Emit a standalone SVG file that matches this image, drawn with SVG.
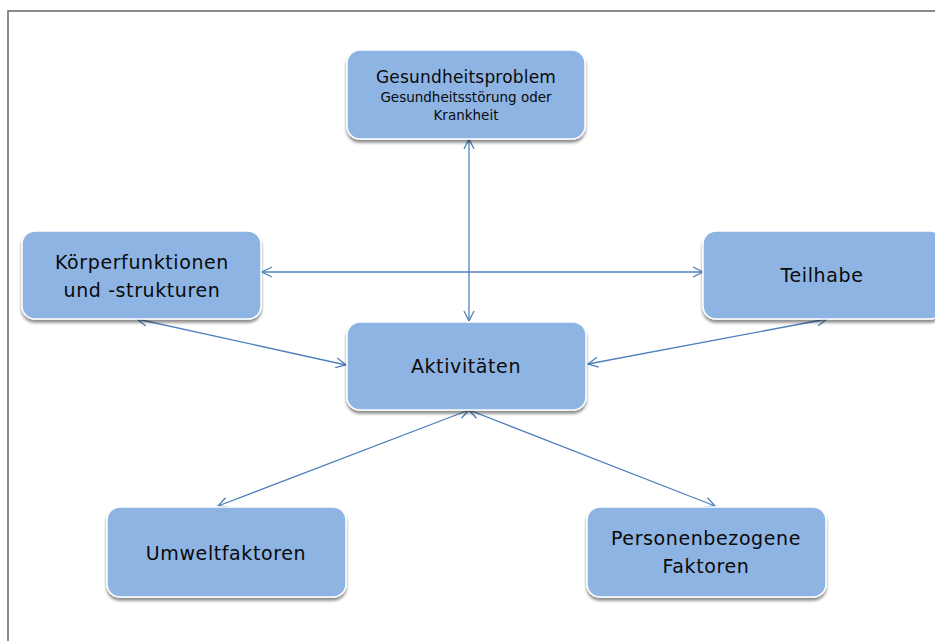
<svg xmlns="http://www.w3.org/2000/svg" width="935" height="641" viewBox="0 0 935 641">
<style>
.box{fill:#8eb4e3;stroke:#ffffff;stroke-width:1.5}
.t{font-family:"DejaVu Sans","Liberation Sans",sans-serif;fill:#0a0a0a;text-anchor:middle}
.big{font-size:19px;letter-spacing:0.6px}
.mid{font-size:17px;letter-spacing:0.2px}
.small{font-size:13.5px}
.c{stroke:#4f81bd;stroke-width:1.3;fill:none;marker-start:url(#ah);marker-end:url(#ah)}
</style>
<defs>
<marker id="ah" viewBox="0 0 12 12" refX="11" refY="6" markerWidth="12" markerHeight="12" markerUnits="userSpaceOnUse" orient="auto-start-reverse">
<path d="M1,1 L11,6 L1,11" fill="none" stroke="#4f81bd" stroke-width="1.3"/>
</marker>
<filter id="sh" x="-10%" y="-10%" width="120%" height="130%">
<feGaussianBlur in="SourceAlpha" stdDeviation="1.5"/>
<feOffset dx="0" dy="2.5" result="b"/>
<feComponentTransfer><feFuncA type="linear" slope="0.45"/></feComponentTransfer>
<feMerge><feMergeNode/><feMergeNode in="SourceGraphic"/></feMerge>
</filter>
</defs>
<rect width="935" height="641" fill="#ffffff"/>
<path d="M8,641 L8,11 L935,11" fill="none" stroke="#666" stroke-width="1.5"/>
<g id="connectors">
<line class="c" x1="469" y1="139" x2="469" y2="321"/>
<line class="c" x1="262" y1="272" x2="703" y2="272"/>
<line class="c" x1="137" y1="319" x2="346" y2="365"/>
<line class="c" x1="827" y1="319" x2="588" y2="364"/>
<line class="c" x1="469" y1="410" x2="218" y2="506"/>
<line class="c" x1="469" y1="410" x2="715" y2="506"/>
</g>
<g id="gesundheitsproblem">
<rect class="box" filter="url(#sh)" x="347" y="50" width="238" height="89" rx="13"/>
<text class="t mid" x="466" y="83">Gesundheitsproblem</text>
<text class="t small" x="466" y="102">Gesundheitsstörung oder</text>
<text class="t small" x="466" y="120">Krankheit</text>
</g>
<g id="koerperfunktionen">
<rect class="box" filter="url(#sh)" x="22" y="231" width="239" height="88" rx="13"/>
<text class="t big" x="142" y="269">Körperfunktionen</text>
<text class="t big" x="142" y="297">und -strukturen</text>
</g>
<g id="teilhabe">
<rect class="box" filter="url(#sh)" x="703" y="231" width="240" height="88" rx="13"/>
<text class="t big" x="822" y="282">Teilhabe</text>
</g>
<g id="aktivitaeten">
<rect class="box" filter="url(#sh)" x="347" y="322" width="239" height="88" rx="13"/>
<text class="t big" x="466" y="373">Aktivitäten</text>
</g>
<g id="umweltfaktoren">
<rect class="box" filter="url(#sh)" x="107" y="507" width="239" height="90" rx="13"/>
<text class="t big" x="226" y="560">Umweltfaktoren</text>
</g>
<g id="personenbezogene">
<rect class="box" filter="url(#sh)" x="587" y="507" width="239" height="90" rx="13"/>
<text class="t big" x="706" y="545">Personenbezogene</text>
<text class="t big" x="706" y="573">Faktoren</text>
</g>
</svg>
